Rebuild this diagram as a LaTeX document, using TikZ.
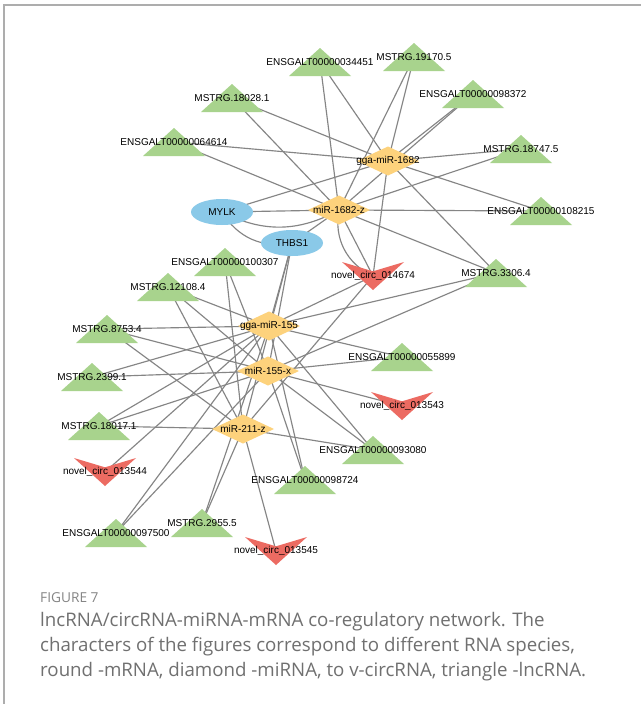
\documentclass[tikz,border=0pt]{standalone}
\usepackage{fontspec}
\setmainfont{Liberation Sans}
\newfontfamily\capfont{Open Sans}
\usetikzlibrary{calc}
\definecolor{tricol}{HTML}{A8D38D}
\definecolor{diacol}{HTML}{FDD27C}
\definecolor{ellcol}{HTML}{8AC9E8}
\definecolor{vcol}{HTML}{EC6B62}
\definecolor{edgecol}{HTML}{858585}
\definecolor{capgray}{HTML}{707070}
\definecolor{framecol}{HTML}{ADADAD}
\tikzset{
  lbl/.style={font=\fontsize{10}{12}\selectfont, inner sep=0pt, text=black},
  edge/.style={draw=edgecol, line width=1.15pt},
  captxt/.style={anchor=west, inner sep=0pt, text=capgray, font=\capfont\fontsize{18.7}{22}\selectfont},
}
\newcommand\mytri[2]{\fill[tricol] ($(#1)+(-31,14)$) -- ++(62,0) -- ++(-31,-28) -- cycle;
  \node[lbl] (#1-l) at (#1) {#2};}
\newcommand\myvshape[2]{\fill[vcol] ($(#1)+(-31,-14)$) -- ($(#1)+(0,-4.7)$) -- ($(#1)+(31,-14)$) -- ($(#1)+(0,14)$) -- cycle;
  \node[lbl] (#1-l) at (#1) {#2};}
\newcommand\mydia[2]{\fill[diacol] ($(#1)+(-31,0)$) -- ($(#1)+(0,-14.5)$) -- ($(#1)+(31,0)$) -- ($(#1)+(0,14.5)$) -- cycle;
  \node[lbl] (#1-l) at (#1) {#2};}
\newcommand\myell[2]{\fill[ellcol] (#1) ellipse [x radius=31, y radius=13];
  \node[lbl] (#1-l) at (#1) {#2};}
\begin{document}
\begin{tikzpicture}[x=1pt,y=-1pt]
\useasboundingbox (0,0) rectangle (641,704);
\fill[white] (0,0) rectangle (641,704);
\draw[framecol, line width=1.5pt] (4,704) -- (4,5) -- (641,5);
% positions
\coordinate (t34451) at (320,62);
\coordinate (t18028) at (232,98);
\coordinate (t64614) at (174,142);
\coordinate (t19170) at (414,57);
\coordinate (t98372) at (473,94);
\coordinate (t18747) at (521,149);
\coordinate (t108215) at (541,211);
\coordinate (g1682) at (388,161);
\coordinate (m1682) at (339,210);
\coordinate (mylk) at (222,212);
\coordinate (thbs1) at (292,243);
\coordinate (v014674) at (373,276);
\coordinate (t3306) at (496,273);
\coordinate (t100307) at (225,262);
\coordinate (t12108) at (168,287);
\coordinate (t8753) at (107,329);
\coordinate (t2399) at (92,377);
\coordinate (t18017) at (99,426);
\coordinate (g155) at (269,326);
\coordinate (m155) at (268,371);
\coordinate (m211) at (243,429);
\coordinate (t55899) at (402,357);
\coordinate (v013543) at (402,406);
\coordinate (t93080) at (373,450);
\coordinate (v013544) at (105,472);
\coordinate (t97500) at (116,533);
\coordinate (t2955) at (202,523);
\coordinate (v013545) at (276,551);
\coordinate (t98724) at (305,480);
% edges
\foreach \a in {t34451,t18028,t64614,t19170,t98372,t18747,t108215,t3306,v014674,mylk}
  \draw[edge] (g1682) -- (\a);
\foreach \a in {t34451,t18028,t64614,t19170,t98372,t18747,t108215,t3306,v014674,mylk,thbs1}
  \draw[edge] (m1682) -- (\a);
\draw[edge] (mylk) to[bend right=28] (m1682);
\draw[edge] (mylk) to[bend right=35] (thbs1);
\draw[edge] (m1682) to[bend right=38] (v014674);
\foreach \a in {t12108,t8753,t2399,t18017,v013544,t97500,t98724,t93080,t55899,t3306,v014674,thbs1,t2955}
  \draw[edge] (g155) -- (\a);
\foreach \a in {t8753,t2399,t18017,t97500,t98724,t93080,t55899,v013543,t3306,thbs1,t100307,t12108}
  \draw[edge] (m155) -- (\a);
\foreach \a in {t12108,t8753,t18017,t2955,v013545,t93080,v014674,thbs1,t100307}
  \draw[edge] (m211) -- (\a);
% shapes
\mytri{t34451}{ENSGALT00000034451}
\mytri{t18028}{MSTRG.18028.1}
\mytri{t64614}{ENSGALT00000064614}
\mytri{t19170}{MSTRG.19170.5}
\mytri{t98372}{ENSGALT00000098372}
\mytri{t18747}{MSTRG.18747.5}
\mytri{t108215}{ENSGALT00000108215}
\mytri{t3306}{MSTRG.3306.4}
\mytri{t100307}{ENSGALT00000100307}
\mytri{t12108}{MSTRG.12108.4}
\mytri{t8753}{MSTRG.8753.4}
\mytri{t2399}{MSTRG.2399.1}
\mytri{t18017}{MSTRG.18017.1}
\mytri{t55899}{ENSGALT00000055899}
\mytri{t93080}{ENSGALT00000093080}
\mytri{t97500}{ENSGALT00000097500}
\mytri{t2955}{MSTRG.2955.5}
\mytri{t98724}{ENSGALT00000098724}
\myvshape{v014674}{novel\_circ\_014674}
\myvshape{v013543}{novel\_circ\_013543}
\myvshape{v013544}{novel\_circ\_013544}
\myvshape{v013545}{novel\_circ\_013545}
\mydia{g1682}{gga-miR-1682}
\mydia{m1682}{miR-1682-z}
\mydia{g155}{gga-miR-155}
\mydia{m155}{miR-155-x}
\mydia{m211}{miR-211-z}
\myell{mylk}{MYLK}
\myell{thbs1}{THBS1}
% caption
\node[captxt, font=\capfont\fontsize{13.7}{16}\selectfont, text=capgray!85] (figlbl) at (40,598) {FIGURE 7};
\node[captxt] (cap1) at (40,622) {lncRNA/circRNA-miRNA-mRNA co-regulatory network. The};
\node[captxt] (cap2) at (40,647) {characters of the figures correspond to different RNA species,};
\node[captxt] (cap3) at (40,672) {round -mRNA, diamond -miRNA, to v-circRNA, triangle -lncRNA.};
\end{tikzpicture}
\end{document}
